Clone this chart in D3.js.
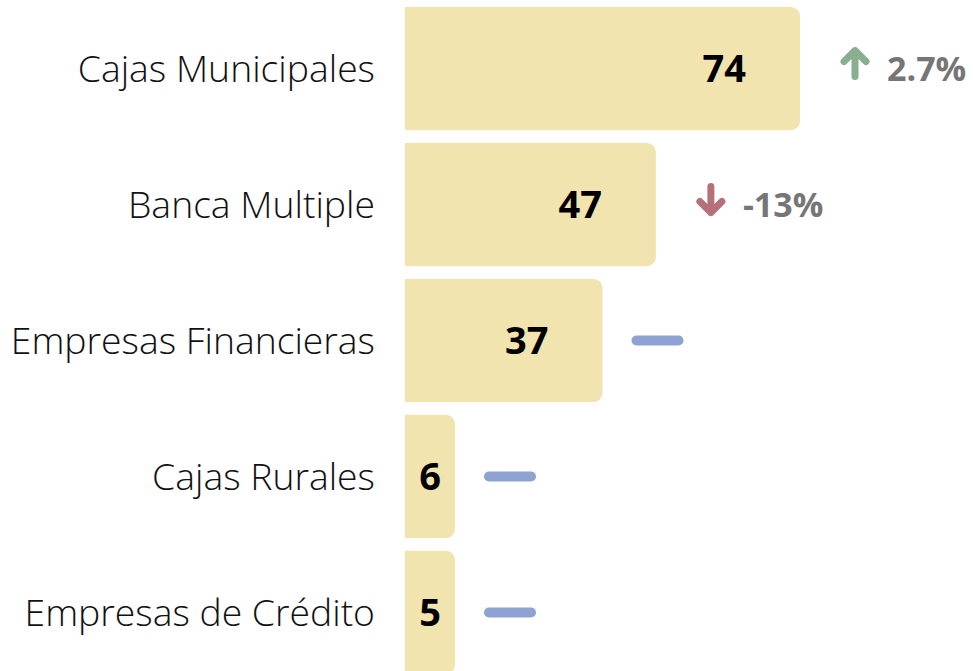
<!DOCTYPE html>
<html>
<head>
<meta charset="utf-8">
<script src="https://cdn.jsdelivr.net/npm/d3@7"></script>
<style>
  html, body { margin: 0; padding: 0; background: #fff; }
  svg { display: block; font-family: "Open Sans", sans-serif; }
</style>
</head>
<body>
<svg id="chart" width="973" height="671"></svg>
<script>
const categories = ['Cajas Municipales', 'Banca Multiple', 'Empresas Financieras', 'Cajas Rurales', 'Empresas de Crédito'];
const values = [74, 47, 37, 6, 5];
const changes = [2.7, -13, 0, 0, 0];
const changeLabels = ['2.7%', '-13%', '', '', ''];

const COLORS = {
    bar: '#f1e4ae',
    up: '#8aae90',
    down: '#b5707a',
    flat: '#8fa2d4',
    change: '#767676'
};

const svg = d3.select('#chart');
const x0 = 405;

const x = d3.scaleLinear().domain([0, d3.max(values)]).range([x0, 800]);
const y = d3.scaleBand().domain(categories).range([7, 674]).paddingInner(0.094);

const rows = categories.map((c, i) => ({
    cat: c, value: values[i], change: changes[i], changeLabel: changeLabels[i]
}));

// bar end: value width, but never narrower than the number it holds
const minW = 50;
rows.forEach(d => { d.end = Math.max(x(d.value), x0 + minW); });

function barPath(x1, x2, y1, h, r) {
    const p = d3.path();
    p.moveTo(x1, y1);
    p.lineTo(x2 - r, y1);
    p.arcTo(x2, y1, x2, y1 + r, r);
    p.lineTo(x2, y1 + h - r);
    p.arcTo(x2, y1 + h, x2 - r, y1 + h, r);
    p.lineTo(x1, y1 + h);
    p.closePath();
    return p.toString();
}

const g = svg.append('g').selectAll('g').data(rows).join('g')
    .attr('transform', d => `translate(0,${y(d.cat)})`);

const bh = y.bandwidth();

g.append('path')
    .attr('d', d => barPath(x0, d.end, 0, bh, 9))
    .attr('fill', COLORS.bar);

g.append('text')
    .attr('x', 375).attr('y', bh / 2).attr('dy', '0.36em')
    .attr('text-anchor', 'end')
    .attr('font-size', '37.3px').attr('font-weight', 300)
    .attr('fill', '#111')
    .text(d => d.cat);

g.append('text')
    .attr('x', d => Math.max(d.end - 54, x0 + 36))
    .attr('y', bh / 2).attr('dy', '0.36em')
    .attr('text-anchor', 'end')
    .attr('font-size', '38px').attr('font-weight', 700)
    .attr('fill', '#000')
    .text(d => d.value);

// change indicator
const ind = g.append('g')
    .attr('transform', d => `translate(${d.end + 55},${bh / 2})`);

ind.filter(d => d.change === 0).append('line')
    .attr('x1', -21).attr('x2', 21)
    .attr('stroke', COLORS.flat).attr('stroke-width', 10)
    .attr('stroke-linecap', 'round');

ind.filter(d => d.change !== 0).append('path')
    .attr('d', d => {
        const s = d.change > 0 ? -1 : 1;
        return `M0,${-13 * s}L0,${13 * s}M-11,${2 * s}L0,${13 * s}L11,${2 * s}`;
    })
    .attr('transform', 'translate(0,-5)')
    .attr('fill', 'none')
    .attr('stroke', d => d.change > 0 ? COLORS.up : COLORS.down)
    .attr('stroke-width', 7)
    .attr('stroke-linecap', 'round').attr('stroke-linejoin', 'round');

ind.filter(d => d.change !== 0).append('text')
    .attr('x', 32).attr('y', 0).attr('dy', '0.36em')
    .attr('font-size', '34px').attr('font-weight', 700)
    .attr('fill', COLORS.change)
    .text(d => d.changeLabel);
</script>
</body>
</html>
